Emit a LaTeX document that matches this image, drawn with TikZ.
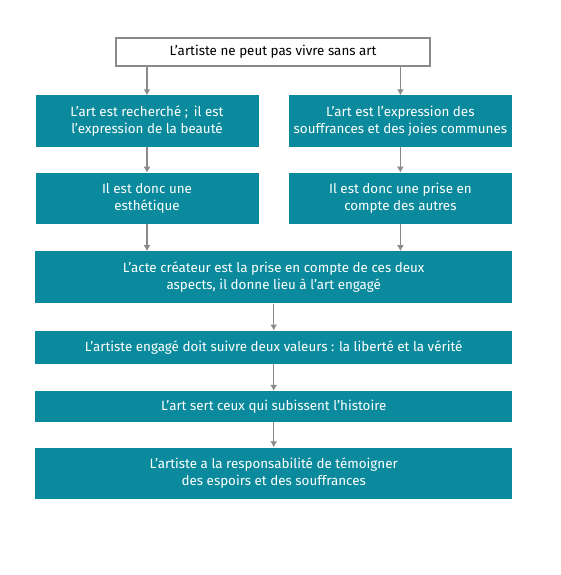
\documentclass[tikz,border=0pt]{standalone}
\usepackage{fontspec}
\setmainfont{Fira Sans}
\usetikzlibrary{arrows,arrows.meta,positioning,calc}
\definecolor{tealbox}{HTML}{0A8A9C}
\definecolor{arrowgray}{HTML}{8A8A8A}

\begin{document}
\begin{tikzpicture}[x=1pt,y=1pt,node distance=27pt,>={Latex[length=6pt,width=7pt]},
    every node/.append style={align=center,font=\fontsize{13.4}{17}\selectfont},
    topbox/.style={draw=arrowgray, line width=1.3pt, fill=white, minimum width=314pt, minimum height=28pt, inner sep=0pt},
    colbox/.style={fill=tealbox, text=white, minimum width=223pt, minimum height=51pt, inner sep=0pt},
    widebox/.style={fill=tealbox, text=white, minimum width=477pt, inner sep=0pt},
    flow/.style={->, color=arrowgray, line width=1.2pt}]
                \useasboundingbox (0,0) rectangle (560,-575);
                \node [topbox] (top) at (273,-52) {L’artiste ne peut pas vivre sans art};
                \node [colbox] (l2) at (147,-121) {L’art est recherché ;\, il est\\ l’expression de la beauté};
                \node [colbox, right=30pt of l2] (r2) {L’art est l’expression des\\ souffrances et des joies communes};
                \node [colbox, below=26pt of l2] (l3) {Il est donc une\\ esthétique};
                \node [colbox, below=26pt of r2] (r3) {Il est donc une prise en\\ compte des autres};
                \coordinate (m3) at ($(l3.south)!0.5!(r3.south)$);
                \node [widebox, minimum height=52pt, below=27pt of m3] (act) {L’acte créateur est la prise en compte de ces deux\\ aspects, il donne lieu à l’art engagé};
                \node [widebox, minimum height=33pt, below=of act] (val) {L’artiste engagé doit suivre deux valeurs : la liberté et la vérité};
                \node [widebox, minimum height=31pt, below=of val] (hist) {L’art sert ceux qui subissent l’histoire};
                \node [widebox, minimum height=51pt, below=25pt of hist] (resp) {L’artiste a la responsabilité de témoigner\\ des espoirs et des souffrances};
                \draw[flow] (top.south -| l2.north) -- (l2.north);
                \draw[flow] (top.south -| r2.north) -- (r2.north);
                \draw[flow] (l2) -- (l3);
                \draw[flow] (r2) -- (r3);
                \draw[flow] (l3) -- (l3 |- act.north);
                \draw[flow] (r3) -- (r3 |- act.north);
                \draw[flow] (act) -- (val);
                \draw[flow] (val) -- (hist);
                \draw[flow] (hist) -- (resp);
            \end{tikzpicture}
\end{document}
